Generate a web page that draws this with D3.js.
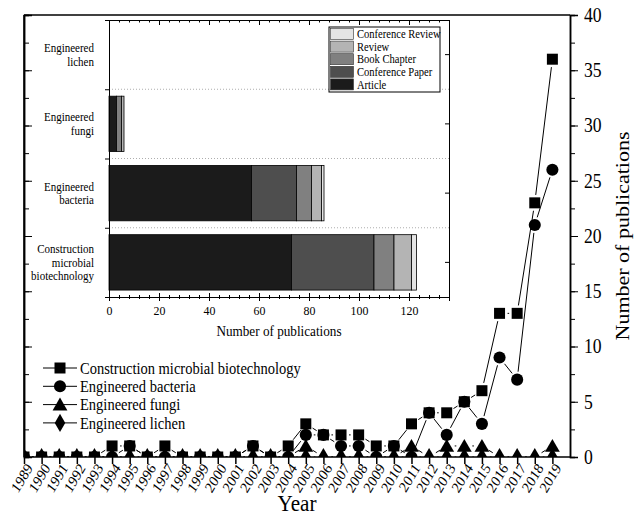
<html>
<script src='https://d3js.org/d3.v7.min.js'></script>
<style>
body {margin:0; background:white;}
svg text {font-family: "Liberation Serif", "DejaVu Serif", "Noto Serif", serif; fill: black;}
</style>
<body onload='init()'>
<svg width=644 height=516></svg>
<script>
// main line chart data
var years = [1989,1990,1991,1992,1993,1994,1995,1996,1997,1998,1999,2000,2001,2002,2003,2004,
             2005,2006,2007,2008,2009,2010,2011,2012,2013,2014,2015,2016,2017,2018,2019];
var construction = [0,0,0,0,0,1,1,0,1,0,0,0,0,1,0,1,3,2,2,2,1,1,3,4,4,5,6,13,13,23,36];
var bacteria     = [0,0,0,0,0,0,1,0,0,0,0,0,0,1,0,0,2,2,1,1,0,1,0,4,2,5,3,9,7,21,26];
var fungi        = [0,0,0,0,0,0,0,0,0,0,0,0,0,0,0,0,1,0,0,0,0,0,1,0,1,1,1,0,0,0,1];
var lichen       = [0,0,0,0,0,0,0,0,0,0,0,0,0,0,0,0,0,0,0,0,0,0,0,0,0,0,0,0,0,0,0];
var seriesNames  = ["Construction microbial biotechnology","Engineered bacteria","Engineered fungi","Engineered lichen"];
var yTicks = [0,5,10,15,20,25,30,35,40];

// inset bar chart data
var barCats  = ["Engineered lichen","Engineered fungi","Engineered bacteria","Construction microbial biotechnology"];
var barLabels = [["Engineered","lichen"],["Engineered","fungi"],["Engineered","bacteria"],["Construction","microbial","biotechnology"]];
var docTypes = ["Article","Conference Paper","Book Chapter","Review","Conference Review"];
var article   = [0,3,57,73];
var confPaper = [0,0,18,33];
var bookChap  = [0,2,6,8];
var review    = [0,1,4,7];
var confRev   = [0,0,1,2];
var docColors = ["#1b1b1b","#4e4e4e","#808080","#b4b4b4","#e4e4e4"];
var barTicks = [0,20,40,60,80,100,120];

var SQ = 0.88; // the original figure's text is a little narrow

function squeeze(sel) {
  sel.each(function() {
    var t = d3.select(this);
    var x = +t.attr("x") || 0;
    t.attr("transform", "translate(" + x + ",0) scale(" + SQ + ",1) translate(" + (-x) + ",0)");
  });
}

function init() {
  var svg = d3.select("svg");

  // ---------- main chart ----------
  var x = d3.scaleLinear().domain([1989,2020]).range([24,570]);
  var y = d3.scaleLinear().domain([0,40]).range([457,15]);

  svg.append("clipPath").attr("id","plotclip")
    .append("rect").attr("x",24).attr("y",15).attr("width",546).attr("height",442);

  // frame
  svg.append("line").attr("x1",24).attr("x2",570).attr("y1",15).attr("y2",15)
    .attr("stroke","black").attr("stroke-width",1.5);
  svg.append("line").attr("x1",24).attr("x2",24).attr("y1",15).attr("y2",457)
    .attr("stroke","black").attr("stroke-width",1.5);

  var minor = d3.range(0,40.1,2.5);
  // right axis
  var rAxis = d3.axisRight(y).tickValues(yTicks).tickSize(8).tickPadding(6);
  var rg = svg.append("g").attr("transform","translate(570,0)").call(rAxis);
  rg.selectAll(".tick text").style("font-size","20px").call(squeeze);
  svg.append("g").attr("transform","translate(570,0)")
    .call(d3.axisRight(y).tickValues(minor).tickSize(5).tickFormat(""));
  // left inner ticks
  svg.append("g").attr("transform","translate(24,0)")
    .call(d3.axisRight(y).tickValues(yTicks).tickSize(8).tickFormat(""));
  svg.append("g").attr("transform","translate(24,0)")
    .call(d3.axisRight(y).tickValues(minor).tickSize(5).tickFormat(""));
  svg.selectAll(".domain").attr("stroke-width",1.5);

  // bottom axis
  var xAxis = d3.axisBottom(x).tickValues(years).tickSize(7).tickFormat(d3.format("d"));
  var xg = svg.append("g").attr("transform","translate(0,457)").call(xAxis);
  xg.select(".domain").attr("d","M24,0H570").attr("stroke-width",1.5);
  xg.selectAll(".tick line").attr("stroke-width",1.5);
  xg.selectAll(".tick text")
    .style("font-size","15.5px")
    .attr("text-anchor","end")
    .attr("dy",null).attr("y",0)
    .attr("transform","scale(" + SQ + ",1) translate(10,11) rotate(-56)");

  svg.append("text").attr("x",297).attr("y",511).attr("text-anchor","middle")
    .style("font-size","24px").text("Year").call(squeeze);
  svg.append("text").attr("transform","translate(629,236) scale(" + SQ + ",1) rotate(-90)")
    .attr("text-anchor","middle").style("font-size","22px").text("Number of publications");

  var sym = [d3.symbolSquare, d3.symbolCircle, d3.symbolTriangle, d3.symbolDiamond];
  var symSize = [121, 115, 95, 95];
  var allSeries = [construction, bacteria, fungi, lichen];

  var plot = svg.append("g").attr("clip-path","url(#plotclip)");
  var gap = 8;
  allSeries.forEach(function(vals, si) {
    var pts = vals.map(function(v,i){ return [x(years[i]), y(v)]; });
    var g = plot.append("g");
    for (var i = 0; i < pts.length-1; i++) {
      var a = pts[i], b = pts[i+1];
      var dx = b[0]-a[0], dy = b[1]-a[1], L = Math.sqrt(dx*dx+dy*dy);
      if (L <= 2*gap) continue;
      var ux = dx/L, uy = dy/L;
      g.append("line")
        .attr("x1",a[0]+ux*gap).attr("y1",a[1]+uy*gap)
        .attr("x2",b[0]-ux*gap).attr("y2",b[1]-uy*gap)
        .attr("stroke","black").attr("stroke-width",1);
    }
    g.selectAll("path.m").data(pts).enter().append("path")
      .attr("class","m")
      .attr("d", d3.symbol().type(sym[si]).size(symSize[si]))
      .attr("transform", function(d){ return "translate("+d[0]+","+(d[1]+(si==2?1.5:0))+")"; })
      .attr("fill","black");
  });

  // line legend
  seriesNames.forEach(function(name, i) {
    var ly = 368 + i*18.3;
    svg.append("line").attr("x1",43).attr("x2",77).attr("y1",ly).attr("y2",ly)
      .attr("stroke","black");
    svg.append("path").attr("d", d3.symbol().type(sym[i]).size(symSize[i]))
      .attr("transform","translate(60,"+(ly+(i==2?1.5:0))+")").attr("fill","black");
    svg.append("text").attr("x",80).attr("y",ly).attr("dy","0.35em")
      .style("font-size","16.5px").text(name).call(squeeze);
  });

  // ---------- inset bar chart ----------
  var bx = d3.scaleLinear().domain([0,136]).range([109,449]);
  var by = d3.scaleBand().domain(barCats).range([20,297]).paddingInner(0.2).paddingOuter(0.1);
  var stackData = barCats.map(function(c,i){
    return {cat:c, "Article":article[i], "Conference Paper":confPaper[i],
            "Book Chapter":bookChap[i], "Review":review[i], "Conference Review":confRev[i]};
  });
  var stacked = d3.stack().keys(docTypes)(stackData);
  var inset = svg.append("g");
  inset.append("rect").attr("x",109).attr("y",20).attr("width",340).attr("height",277)
    .attr("fill","white");

  // dotted separators
  barCats.slice(1).forEach(function(c,i){
    var yy = by(c) - by.step()*by.paddingInner()/2;
    inset.append("line").attr("x1",109).attr("x2",449).attr("y1",yy).attr("y2",yy)
      .attr("stroke","#999").attr("stroke-dasharray","1,2").attr("stroke-width",0.8);
  });

  stacked.forEach(function(layer, k) {
    inset.append("g").selectAll("rect").data(layer).enter().append("rect")
      .filter(function(d){ return d[1]-d[0] > 0; })
      .attr("x", function(d){ return bx(d[0]); })
      .attr("width", function(d){ return bx(d[1])-bx(d[0]); })
      .attr("y", function(d){ return by(d.data.cat); })
      .attr("height", by.bandwidth())
      .attr("fill", docColors[k]).attr("stroke","black").attr("stroke-width",0.8);
  });

  // inset axes
  var minorB = d3.range(0,137,4);
  var bAx = inset.append("g").attr("transform","translate(0,297)")
    .call(d3.axisBottom(bx).tickValues(barTicks).tickSize(4).tickPadding(4));
  bAx.selectAll(".tick text").style("font-size","13.5px").call(squeeze);
  inset.append("g").attr("transform","translate(0,297)")
    .call(d3.axisBottom(bx).tickValues(minorB).tickSize(2).tickFormat(""));
  inset.append("g").attr("transform","translate(0,297)")
    .call(d3.axisTop(bx).tickValues(barTicks).tickSize(4).tickFormat(""));
  inset.append("g").attr("transform","translate(0,297)")
    .call(d3.axisTop(bx).tickValues(minorB).tickSize(2).tickFormat(""));
  inset.append("g").attr("transform","translate(0,20)")
    .call(d3.axisBottom(bx).tickValues(barTicks).tickSize(5).tickFormat(""));
  inset.append("g").attr("transform","translate(0,20)")
    .call(d3.axisBottom(bx).tickValues(minorB).tickSize(2.5).tickFormat(""));

  var catCenter = function(c){ return by(c)+by.bandwidth()/2; };
  inset.append("g").attr("transform","translate(109,0)")
    .call(d3.axisLeft(d3.scalePoint().domain(["a","b","c","d","e"]).range([20,297])).tickSize(4).tickFormat(""));
  inset.append("g").attr("transform","translate(449,0)")
    .call(d3.axisLeft(by).tickSize(4).tickFormat(""));
  inset.selectAll(".domain").attr("stroke-width",1);

  barCats.forEach(function(c,i){
    var lines = barLabels[i];
    var t = inset.append("text").attr("x",94).attr("text-anchor","end").style("font-size","12.5px");
    lines.forEach(function(l,j){
      t.append("tspan").attr("x",94)
        .attr("y", catCenter(c) + (j - (lines.length-1)/2)*13.5)
        .attr("dy","0.35em").text(l);
    });
    t.call(squeeze);
  });

  inset.append("text").attr("x",279).attr("y",336).attr("text-anchor","middle")
    .style("font-size","15px").text("Number of publications").call(squeeze);

  // inset legend
  inset.append("rect").attr("x",329).attr("y",27).attr("width",111).attr("height",65)
    .attr("fill","white").attr("stroke","black").attr("stroke-width",1);
  docTypes.slice().reverse().forEach(function(t, i){
    var ly = 34 + i*12.6;
    var k = docTypes.indexOf(t);
    inset.append("rect").attr("x",330.5).attr("y",ly-5.5).attr("width",23).attr("height",11)
      .attr("fill",docColors[k]).attr("stroke","#333").attr("stroke-width",0.6);
    inset.append("text").attr("x",357).attr("y",ly).attr("dy","0.35em")
      .style("font-size","12px").text(t).call(squeeze);
  });

  // drop the axis generator's default sans-serif font so the serif style applies
  svg.selectAll("g").attr("font-family", null).attr("font-size", null);
}
</script>
</body>
</html>
